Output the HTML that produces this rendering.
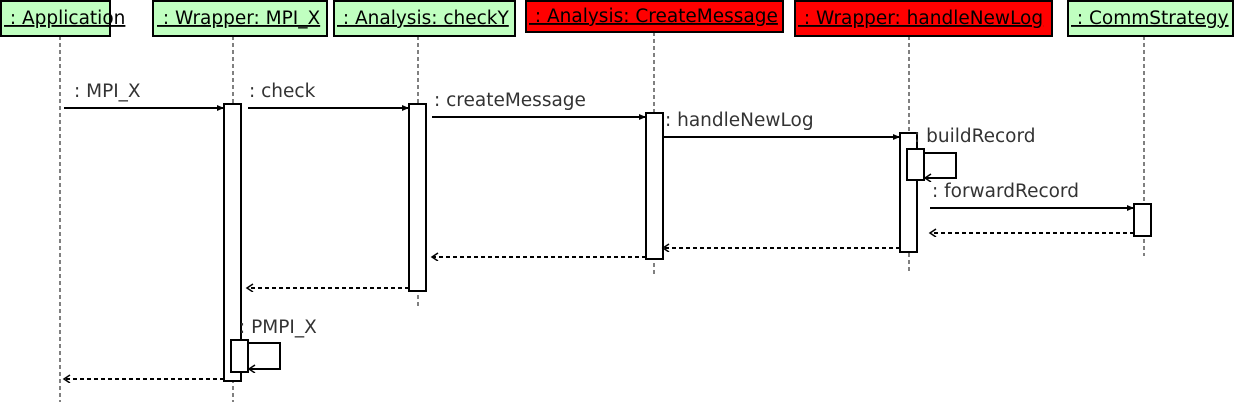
<!DOCTYPE html>
<html><head><meta charset="utf-8"><style>
html,body{margin:0;padding:0;background:#fff;width:1235px;height:402px;overflow:hidden}
svg text{font-family:"DejaVu Sans","Liberation Sans",sans-serif;font-size:18.5px}
</style></head><body>
<svg width="1235" height="402" xmlns="http://www.w3.org/2000/svg">
<defs>
<marker id="f" markerWidth="8" markerHeight="8" refX="7" refY="4" orient="auto" markerUnits="userSpaceOnUse"><path d="M0,1 L7,4 L0,7 Z" fill="#000"/></marker>
<marker id="o" markerWidth="9" markerHeight="9" refX="7" refY="4" orient="auto" markerUnits="userSpaceOnUse"><path d="M1,0 L7,4 L1,8" fill="none" stroke="#000" stroke-width="1.5"/></marker>
</defs>
<g stroke="#000" stroke-width="1" stroke-dasharray="4,3">
<line x1="60" y1="36" x2="60" y2="402"/>
<line x1="233" y1="36" x2="233" y2="402"/>
<line x1="418" y1="36" x2="418" y2="308"/>
<line x1="654" y1="32" x2="654" y2="276"/>
<line x1="909" y1="36" x2="909" y2="272"/>
<line x1="1144" y1="36" x2="1144" y2="256"/>
</g>
<g stroke="#000" stroke-width="2">
<rect x="1" y="1" width="109" height="35" fill="#c0ffc0"/>
<rect x="153" y="1" width="174" height="35" fill="#c0ffc0"/>
<rect x="334" y="1" width="181" height="35" fill="#c0ffc0"/>
<rect x="526" y="1" width="257" height="31" fill="#ff0000"/>
<rect x="795" y="1" width="257" height="35" fill="#ff0000"/>
<rect x="1068" y="1" width="165" height="35" fill="#c0ffc0"/>
</g>
<g fill="#000">
<text x="4" y="24" text-decoration="underline">&#160;: Application</text>
<text x="157" y="24" text-decoration="underline">&#160;: Wrapper: MPI_X</text>
<text x="337" y="24" text-decoration="underline">&#160;: Analysis: checkY</text>
<text x="529" y="22" text-decoration="underline">&#160;: Analysis: CreateMessage</text>
<text x="798" y="24" text-decoration="underline">&#160;: Wrapper: handleNewLog</text>
<text x="1071" y="24" text-decoration="underline">&#160;: CommStrategy</text>
</g>
<g stroke="#000" stroke-width="2" fill="#fff">
<rect x="224" y="104" width="17" height="277"/>
<rect x="409" y="104" width="17" height="187"/>
<rect x="646" y="113" width="17" height="146"/>
<rect x="900" y="133" width="17" height="119"/>
<rect x="1134" y="204" width="17" height="32"/>
<rect x="907" y="149" width="17" height="31"/>
<rect x="231" y="340" width="17" height="32"/>
</g>
<g stroke="#000" stroke-width="2" fill="none">
<line x1="64" y1="108" x2="224" y2="108" marker-end="url(#f)"/>
<line x1="248" y1="108" x2="409" y2="108" marker-end="url(#f)"/>
<line x1="432" y1="117" x2="646" y2="117" marker-end="url(#f)"/>
<line x1="663" y1="137" x2="900" y2="137" marker-end="url(#f)"/>
<line x1="930" y1="208" x2="1134" y2="208" marker-end="url(#f)"/>
<polyline points="924,153 956,153 956,178 925,178" marker-end="url(#o)"/>
<polyline points="248,343 280,343 280,369 249,369" marker-end="url(#o)"/>
<g stroke-dasharray="4,3">
<line x1="1134" y1="233" x2="930" y2="233" marker-end="url(#o)"/>
<line x1="900" y1="248" x2="663" y2="248" marker-end="url(#o)"/>
<line x1="646" y1="257" x2="432" y2="257" marker-end="url(#o)"/>
<line x1="409" y1="288" x2="247" y2="288" marker-end="url(#o)"/>
<line x1="224" y1="379" x2="64" y2="379" marker-end="url(#o)"/>
</g>
</g>
<g fill="#333">
<text x="74" y="97">: MPI_X</text>
<text x="249" y="97">: check</text>
<text x="434" y="106">: createMessage</text>
<text x="665" y="126">: handleNewLog</text>
<text x="914" y="142">: buildRecord</text>
<text x="932" y="197">: forwardRecord</text>
<text x="239" y="333">: PMPI_X</text>
</g>
</svg>
</body></html>
